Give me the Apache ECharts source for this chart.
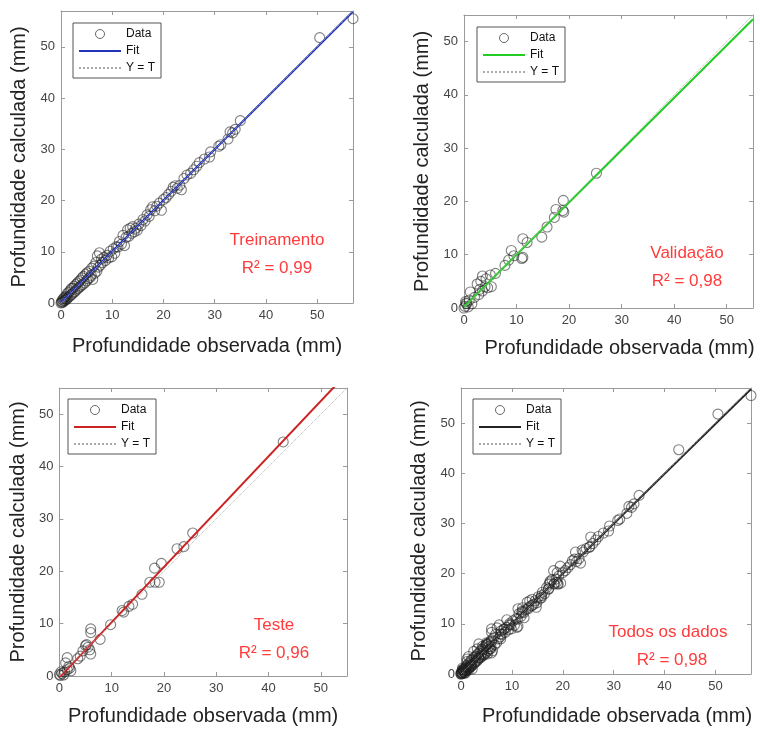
<!DOCTYPE html>
<html lang="pt">
<head>
<meta charset="utf-8">
<title>Profundidade observada x calculada</title>
<script src="https://cdn.jsdelivr.net/npm/echarts@6/dist/echarts.min.js"></script>
<style>
  body { margin: 0; background: #fff; }
  .panel { position: absolute; width: 380px; }
</style>
</head>
<body>
<div id="p1" class="panel" style="left:0;top:0;height:365px"></div>
<div id="p2" class="panel" style="left:380px;top:0;height:365px"></div>
<div id="p3" class="panel" style="left:0;top:365px;height:366px"></div>
<div id="p4" class="panel" style="left:380px;top:365px;height:366px"></div>
<script>
// dados (observada, calculada)
var trainObs = [0.0,0.1,0.2,0.3,0.4,0.5,0.6,0.7,0.8,0.9,1.0,1.1,1.2,1.3,1.5,1.6,1.8,1.9,2.0,2.1,
  2.3,2.4,2.6,2.7,2.9,3.0,3.2,3.3,3.5,3.6,3.8,3.9,4.1,4.2,4.4,4.6,4.8,5.0,5.1,5.3,
  5.5,5.7,5.9,6.0,6.2,6.4,6.6,6.8,7.0,7.1,7.3,7.5,7.7,7.9,8.1,8.4,8.7,9.0,9.3,9.6,
  9.9,10.2,10.5,10.8,11.1,11.4,11.8,12.1,12.4,12.7,13.0,13.2,13.5,13.8,14.0,14.3,14.6,14.9,15.2,15.6,
  16.0,16.4,16.8,17.2,17.5,17.9,18.3,18.7,19.2,19.6,20.0,20.5,21.0,21.5,21.9,22.3,22.7,23.2,23.5,24.0,
  24.6,25.3,25.9,26.5,27.0,28.0,29.0,29.2,30.8,31.2,32.6,33.0,33.5,34.0,35.0,50.5,57.0];
var trainCalc = [0.0,0.3,0.1,0.6,0.2,0.9,0.4,1.1,0.5,0.8,1.3,0.7,1.8,1.0,2.1,1.2,2.4,1.5,2.8,1.7,
  2.9,2.0,3.3,2.2,3.6,2.5,3.9,2.8,4.2,3.1,4.5,3.3,4.9,3.6,5.2,3.9,5.6,4.3,5.9,4.7,
  6.2,5.0,5.4,6.8,4.6,7.2,5.8,7.9,6.2,9.2,7.0,9.8,7.4,8.6,7.9,8.9,8.3,9.3,8.8,10.1,
  9.0,10.6,9.7,11.0,10.9,12.0,11.5,13.2,11.2,12.8,14.3,13.0,14.6,13.6,14.9,13.9,14.6,14.2,15.4,15.1,
  16.3,16.0,17.2,16.9,18.2,18.8,18.0,18.9,19.5,18.1,20.2,20.6,21.2,21.8,22.6,22.9,22.4,23.0,22.1,24.3,
  25.0,25.3,26.0,26.7,27.4,28.1,28.5,29.5,30.6,30.9,32.0,33.4,33.2,33.9,35.6,51.8,55.5];

var valObs = [25.2,18.9,18.8,19.0,17.5,17.2,15.8,14.8,11.2,12.0,11.0,11.2,9.0,9.5,8.5,7.8,6.0,5.0,3.5,3.2,
  5.2,4.0,3.0,2.5,2.0,1.2,1.0,0.5,0.2,0.0,0.4,0.8,0.3,1.5,2.8,3.5,4.5,4.2];
var valCalc = [25.3,20.2,18.3,18.0,18.5,17.0,15.2,13.3,13.0,12.3,9.3,9.5,10.8,9.8,9.0,8.0,6.5,6.2,6.0,5.0,
  4.0,4.0,3.5,4.5,2.0,3.0,1.5,0.8,0.3,0.0,0.9,0.2,1.2,0.8,2.5,3.2,3.8,5.5];

var testObs = [42.8,25.5,23.8,22.5,19.5,18.2,17.3,18.3,19.1,15.8,14.0,13.3,12.3,12.0,9.8,7.8,6.0,6.0,6.0,5.5,
  5.0,4.5,5.8,4.0,3.5,1.5,1.2,2.0,2.2,1.5,1.0,0.5,0.2,0.0,0.8,0.3,1.8,5.2];
var testCalc = [44.7,27.3,24.7,24.3,21.5,20.6,17.9,17.9,17.9,15.6,13.7,13.3,12.2,12.5,9.8,7.0,9.0,8.3,4.2,5.5,
  5.8,4.8,5.0,3.8,3.3,3.5,2.5,1.5,1.0,1.2,0.8,0.5,0.1,0.3,0.2,0.8,1.8,6.0];

// retas de ajuste: [x0, y0, x1, y1]
var fitTrain = [0, 0.1, 57, 56.9];
var fitVal = [0, 0.2, 55, 54.2];
var fitTest = [0, -0.3, 55, 57.8];
var fitAll = [0, 0.1, 57, 56.8];

var tickLabels = ['0', '10', '20', '30', '40', '50'];

var FONT = "'Liberation Sans', Arial, sans-serif";

function zip(a, b) {
  var out = [];
  for (var i = 0; i < a.length; i++) out.push([a[i], b[i]]);
  return out;
}

function makePanel(id, cfg) {
  var chart = echarts.init(document.getElementById(id));
  var max = cfg.max;
  var axisCommon = {
    type: 'value', min: 0, max: max, interval: 10,
    axisLine: { show: true, onZero: false, lineStyle: { color: '#9a9a9a', width: 1 } },
    axisTick: { show: true, inside: true, length: 4, lineStyle: { color: '#9a9a9a' } },
    splitLine: { show: false }
  };
  var label = {
    show: true, showMaxLabel: false, color: '#444', fontSize: 13, fontFamily: FONT, margin: 6,
    formatter: function (v) { return tickLabels[v / 10] !== undefined ? tickLabels[v / 10] : ''; }
  };
  var nameStyle = { color: '#222', fontSize: 20, fontFamily: FONT };
  var hidden = { color: 'rgba(0,0,0,0)', borderWidth: 0, opacity: 0 };
  var option = {
    animation: false,
    backgroundColor: '#fff',
    grid: cfg.grid,
    xAxis: [
      Object.assign({}, axisCommon, {
        position: 'bottom', axisLabel: label,
        name: 'Profundidade observada (mm)', nameLocation: 'middle', nameGap: cfg.xGap,
        nameTextStyle: Object.assign({}, nameStyle, { padding: [0, 0, 0, cfg.xShift || 0] })
      }),
      Object.assign({}, axisCommon, { position: 'top', axisLabel: { show: false } })
    ],
    yAxis: [
      Object.assign({}, axisCommon, {
        position: 'left', axisLabel: label,
        name: 'Profundidade calculada (mm)', nameLocation: 'middle', nameGap: cfg.yGap,
        nameTextStyle: nameStyle
      }),
      Object.assign({}, axisCommon, { position: 'right', axisLabel: { show: false } })
    ],
    legend: {
      orient: 'vertical', left: cfg.legend[0], top: cfg.legend[1],
      backgroundColor: '#fff', borderColor: '#555', borderWidth: 1, borderRadius: 0,
      padding: [5, 6, 4, 5], itemWidth: 42, itemHeight: 9, itemGap: 5,
      textStyle: { fontSize: 12, fontFamily: FONT, color: '#111' },
      selectedMode: false,
      data: [
        { name: 'Data', icon: 'circle', itemStyle: { color: 'rgba(0,0,0,0)', borderColor: '#444', borderWidth: 1 } },
        { name: 'Fit', itemStyle: hidden },
        { name: 'Y = T', itemStyle: hidden }
      ]
    },
    graphic: [
      { type: 'text', x: cfg.note[0], y: cfg.note[1],
        style: { text: cfg.noteText, fill: '#ff3b3b', font: '17px ' + FONT, align: 'center', verticalAlign: 'middle' } },
      { type: 'text', x: cfg.r2[0], y: cfg.r2[1],
        style: { text: cfg.r2Text, fill: '#ff3b3b', font: '17px ' + FONT, align: 'center', verticalAlign: 'middle' } }
    ],
    series: [
      {
        name: 'Data', type: 'scatter', data: cfg.data, symbol: 'circle', symbolSize: 10,
        itemStyle: { color: 'rgba(0,0,0,0)', borderColor: 'rgba(30,30,30,0.7)', borderWidth: 1.1 }
      },
      {
        name: 'Fit', type: 'line', symbol: 'none', clip: true,
        data: [[cfg.fit[0], cfg.fit[1]], [cfg.fit[2], cfg.fit[3]]],
        lineStyle: { color: cfg.color, width: 2 }, itemStyle: { color: cfg.color }
      },
      {
        name: 'Y = T', type: 'line', symbol: 'none', clip: true,
        data: [[0, 0], [max, max]],
        lineStyle: { color: '#aaaaaa', width: 1, type: 'dotted' }, itemStyle: { color: '#aaaaaa' }
      }
    ]
  };
  chart.setOption(option);
}

makePanel('p1', {
  max: 57, grid: { left: 61, top: 11, width: 292, height: 292 },
  xGap: 33, yGap: 31, legend: [73, 23],
  data: zip(trainObs, trainCalc), fit: fitTrain, color: '#2233bb',
  noteText: 'Treinamento', note: [277, 240], r2Text: 'R² = 0,99', r2: [277, 268]
});
makePanel('p2', {
  max: 55, grid: { left: 84, top: 15, width: 289, height: 293 },
  xGap: 30, xShift: 22, yGap: 32, legend: [97, 27],
  data: zip(valObs, valCalc), fit: fitVal, color: '#22cc22',
  noteText: 'Validação', note: [307, 253], r2Text: 'R² = 0,98', r2: [307, 281]
});
makePanel('p3', {
  max: 55, grid: { left: 56, top: 23, width: 291, height: 292 },
  xGap: 30, yGap: 29, legend: [68, 34],
  data: zip(testObs, testCalc), fit: fitTest, color: '#cc2222',
  noteText: 'Teste', note: [274, 260], r2Text: 'R² = 0,96', r2: [274, 288]
});
makePanel('p4', {
  max: 57, grid: { left: 81, top: 23, width: 290, height: 292 },
  xGap: 32, xShift: 22, yGap: 28, legend: [93, 34],
  data: zip(trainObs.concat(valObs, testObs), trainCalc.concat(valCalc, testCalc)), fit: fitAll, color: '#222222',
  noteText: 'Todos os dados', note: [288, 267], r2Text: 'R² = 0,98', r2: [292, 295]
});
</script>
</body>
</html>
